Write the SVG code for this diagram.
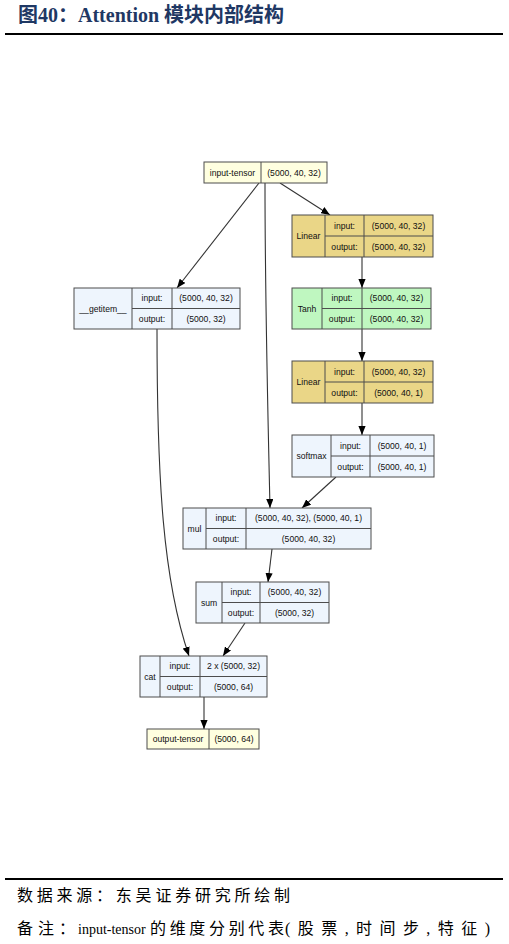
<svg xmlns="http://www.w3.org/2000/svg" width="509" height="944" viewBox="0 0 509 944">
<defs>
<marker id="ah" viewBox="0 0 10 8" refX="10" refY="4" markerWidth="9" markerHeight="7.2" markerUnits="userSpaceOnUse" orient="auto">
<path d="M0,0 L10,4 L0,8 Z" fill="#000"/>
</marker>
</defs>
<style>
.title{font-family:"Liberation Serif","Noto Sans CJK SC",serif;font-weight:bold;font-size:20px;fill:#1f3864}
.foot{font-family:"Liberation Serif","Noto Sans CJK SC",serif;font-size:16px;fill:#000}
.lat{font-size:14px}
.box{stroke:#4d4d4d;stroke-width:1}
.io{fill:#ffffe0}
.lin{fill:#ead687}
.tanh{fill:#bff7c0}
.blue{fill:#eef5fd}
.t{font-family:"Liberation Sans",Arial,sans-serif;font-size:8.6px;fill:#111;text-anchor:middle;dominant-baseline:central}
.dv{stroke:#4d4d4d;stroke-width:1;fill:none}
.e{stroke:#333;stroke-width:1.1;fill:none;marker-end:url(#ah)}
.rule{stroke:#000;stroke-width:2}
</style>
<text class="title" x="18" y="22">图40：Attention 模块内部结构</text>
<line class="rule" x1="5" y1="34" x2="503" y2="34"/>

<g id="connectors">
<path class="e" d="M259,183 L177,288"/>
<path class="e" d="M265,183 C265,300 268,420 270,508"/>
<path class="e" d="M280,183 L330,215"/>
<path class="e" d="M362,257 L362,288"/>
<path class="e" d="M362,329 L362,361"/>
<path class="e" d="M362,403 L362,435"/>
<path class="e" d="M336,477 L302,508"/>
<path class="e" d="M272,549 L268,582"/>
<path class="e" d="M245,623 L223,656"/>
<path class="e" d="M157,329 C157,480 163,580 189,656"/>
<path class="e" d="M204,697 L204,729"/>
</g>

<g id="input-tensor">
<rect class="box io" x="204" y="162" width="123" height="21"/>
<line class="dv" x1="261" y1="162" x2="261" y2="183"/>
<text class="t" x="232.5" y="172.5">input-tensor</text>
<text class="t" x="294" y="172.5">(5000, 40, 32)</text>
</g>

<g id="linear1">
<rect class="box lin" x="292" y="215" width="141" height="42"/>
<line class="dv" x1="325" y1="215" x2="325" y2="257"/>
<line class="dv" x1="325" y1="236" x2="433" y2="236"/>
<line class="dv" x1="364" y1="215" x2="364" y2="257"/>
<text class="t" x="308.5" y="236">Linear</text>
<text class="t" x="344.5" y="225.5">input:</text>
<text class="t" x="344.5" y="246.5">output:</text>
<text class="t" x="398.5" y="225.5">(5000, 40, 32)</text>
<text class="t" x="398.5" y="246.5">(5000, 40, 32)</text>
</g>

<g id="getitem">
<rect class="box blue" x="74" y="288" width="166" height="41"/>
<line class="dv" x1="132" y1="288" x2="132" y2="329"/>
<line class="dv" x1="132" y1="308.5" x2="240" y2="308.5"/>
<line class="dv" x1="172" y1="288" x2="172" y2="329"/>
<text class="t" x="103" y="308.5">__getitem__</text>
<text class="t" x="152" y="298">input:</text>
<text class="t" x="152" y="319">output:</text>
<text class="t" x="206" y="298">(5000, 40, 32)</text>
<text class="t" x="206" y="319">(5000, 32)</text>
</g>

<g id="tanh">
<rect class="box tanh" x="292" y="288" width="139" height="41"/>
<line class="dv" x1="322" y1="288" x2="322" y2="329"/>
<line class="dv" x1="322" y1="308.5" x2="431" y2="308.5"/>
<line class="dv" x1="362" y1="288" x2="362" y2="329"/>
<text class="t" x="307" y="308.5">Tanh</text>
<text class="t" x="342" y="298">input:</text>
<text class="t" x="342" y="319">output:</text>
<text class="t" x="396.5" y="298">(5000, 40, 32)</text>
<text class="t" x="396.5" y="319">(5000, 40, 32)</text>
</g>

<g id="linear2">
<rect class="box lin" x="292" y="361" width="141" height="42"/>
<line class="dv" x1="325" y1="361" x2="325" y2="403"/>
<line class="dv" x1="325" y1="382" x2="433" y2="382"/>
<line class="dv" x1="364" y1="361" x2="364" y2="403"/>
<text class="t" x="308.5" y="382">Linear</text>
<text class="t" x="344.5" y="371.5">input:</text>
<text class="t" x="344.5" y="392.5">output:</text>
<text class="t" x="398.5" y="371.5">(5000, 40, 32)</text>
<text class="t" x="398.5" y="392.5">(5000, 40, 1)</text>
</g>

<g id="softmax">
<rect class="box blue" x="292" y="435" width="142" height="42"/>
<line class="dv" x1="331" y1="435" x2="331" y2="477"/>
<line class="dv" x1="331" y1="456" x2="434" y2="456"/>
<line class="dv" x1="370" y1="435" x2="370" y2="477"/>
<text class="t" x="311.5" y="456">softmax</text>
<text class="t" x="350.5" y="445.5">input:</text>
<text class="t" x="350.5" y="466.5">output:</text>
<text class="t" x="402" y="445.5">(5000, 40, 1)</text>
<text class="t" x="402" y="466.5">(5000, 40, 1)</text>
</g>

<g id="mul">
<rect class="box blue" x="183" y="508" width="188" height="41"/>
<line class="dv" x1="206" y1="508" x2="206" y2="549"/>
<line class="dv" x1="206" y1="528.5" x2="371" y2="528.5"/>
<line class="dv" x1="246" y1="508" x2="246" y2="549"/>
<text class="t" x="194.5" y="528.5">mul</text>
<text class="t" x="226" y="518">input:</text>
<text class="t" x="226" y="539">output:</text>
<text class="t" x="308.5" y="518">(5000, 40, 32), (5000, 40, 1)</text>
<text class="t" x="308.5" y="539">(5000, 40, 32)</text>
</g>

<g id="sum">
<rect class="box blue" x="196" y="582" width="133" height="41"/>
<line class="dv" x1="222" y1="582" x2="222" y2="623"/>
<line class="dv" x1="222" y1="602.5" x2="329" y2="602.5"/>
<line class="dv" x1="260" y1="582" x2="260" y2="623"/>
<text class="t" x="209" y="602.5">sum</text>
<text class="t" x="241" y="592">input:</text>
<text class="t" x="241" y="613">output:</text>
<text class="t" x="294.5" y="592">(5000, 40, 32)</text>
<text class="t" x="294.5" y="613">(5000, 32)</text>
</g>

<g id="cat">
<rect class="box blue" x="140" y="656" width="127" height="41"/>
<line class="dv" x1="160" y1="656" x2="160" y2="697"/>
<line class="dv" x1="160" y1="676.5" x2="267" y2="676.5"/>
<line class="dv" x1="200" y1="656" x2="200" y2="697"/>
<text class="t" x="150" y="676.5">cat</text>
<text class="t" x="180" y="666">input:</text>
<text class="t" x="180" y="687">output:</text>
<text class="t" x="233.5" y="666">2 x (5000, 32)</text>
<text class="t" x="233.5" y="687">(5000, 64)</text>
</g>

<g id="output-tensor">
<rect class="box io" x="147" y="729" width="112" height="20"/>
<line class="dv" x1="209" y1="729" x2="209" y2="749"/>
<text class="t" x="178" y="739">output-tensor</text>
<text class="t" x="234" y="739">(5000, 64)</text>
</g>

<line class="rule" x1="5" y1="879" x2="503" y2="879"/>
<text class="foot" x="17" y="901" textLength="273" lengthAdjust="spacing">数据来源：东吴证券研究所绘制</text>
<text class="foot" x="17" y="934" textLength="58" lengthAdjust="spacing">备注：</text>
<text class="foot lat" x="78" y="934">input-tensor</text>
<text class="foot" x="150" y="934" textLength="134" lengthAdjust="spacing">的维度分别代表</text>
<text class="foot" x="285" y="934" textLength="205" lengthAdjust="spacing">(股票,时间步,特征)</text>
</svg>
